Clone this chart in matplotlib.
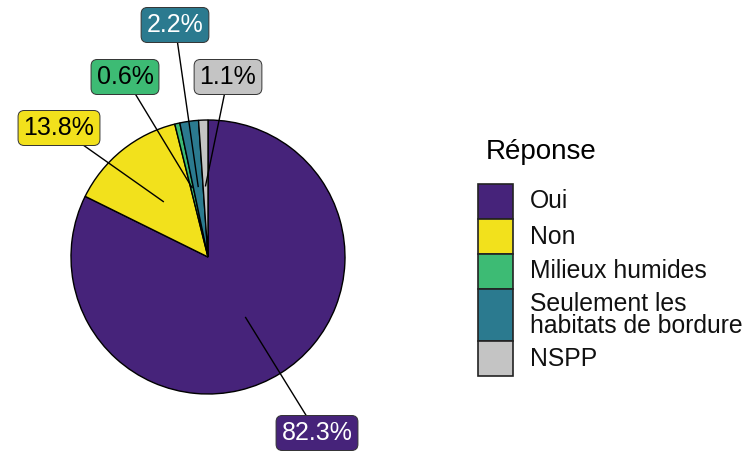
import matplotlib
matplotlib.use("Agg")
import matplotlib.pyplot as plt
from matplotlib.patches import Rectangle
import numpy as np

plt.rcParams['font.family'] = ['Liberation Sans', 'DejaVu Sans']

# ---- data ----
categories = ["Oui", "Non", "Milieux humides", "Seulement les\nhabitats de bordure", "NSPP"]
values = [82.3, 13.8, 0.6, 2.2, 1.1]
labels = ["82.3%", "13.8%", "0.6%", "2.2%", "1.1%"]
colors = ["#46237A", "#F2E11C", "#3DBB74", "#2B7A8F", "#C4C4C4"]
label_text_colors = ["white", "black", "black", "white", "black"]
legend_title = "Réponse"

# ---- layout (pixel coordinates, y from top) ----
W, H = 748, 451
center_px = (208, 257)
radius = 137
label_pos_px = [(317, 433), (59, 128), (125, 77), (175, 25), (228, 77)]

fig = plt.figure(figsize=(W / 100, H / 100), dpi=100)
ax = fig.add_axes([0, 0, 1, 1])

def Y(y):
    return H - y

cx, cy = center_px[0], Y(center_px[1])
ax.pie(values, colors=colors, startangle=90, counterclock=False,
       radius=radius, center=(cx, cy),
       wedgeprops=dict(edgecolor="black", linewidth=1.0))
ax.set_xlim(0, W)
ax.set_ylim(0, H)
ax.set_aspect("equal")
ax.axis("off")

total = sum(values)
cum = 0.0
for v, lab, col, tcol, (lx, ly) in zip(values, labels, colors, label_text_colors, label_pos_px):
    mid = np.deg2rad(90 - 360 * (cum + v / 2) / total)
    cum += v
    px = cx + 0.52 * radius * np.cos(mid)
    py = cy + 0.52 * radius * np.sin(mid)
    ax.plot([px, lx], [py, Y(ly)], color="black", lw=1.0, zorder=5)
    ax.text(lx, Y(ly), lab, ha="center", va="center", fontsize=18, color=tcol, zorder=6,
            bbox=dict(boxstyle="round,pad=0.22,rounding_size=0.25", fc=col, ec="#333333", lw=0.7))

# ---- legend ----
ax.text(486, Y(152), legend_title, ha="left", va="center", fontsize=20, color="black")
ky = 184
for cat, col in zip(categories, colors):
    nlines = cat.count("\n") + 1
    h = 18 + 17 * nlines
    ax.add_patch(Rectangle((478, Y(ky + h)), 35, h, fc=col, ec="#222222", lw=1.2, zorder=3))
    ax.text(530, Y(ky + h / 2), cat, ha="left", va="center", fontsize=17.8,
            color="#111111", linespacing=0.9)
    ky += h

fig.savefig("out.png", dpi=100)
